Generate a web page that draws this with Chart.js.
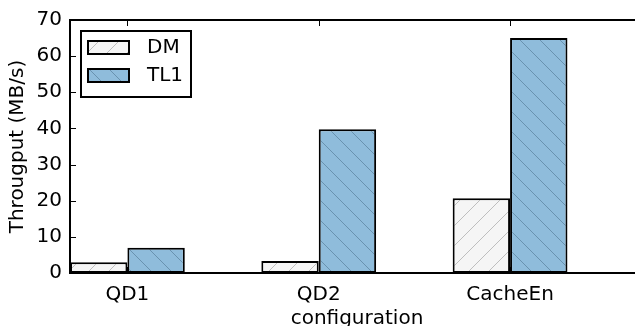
<!DOCTYPE html>
<html>
<head>
  <title>Throughput by configuration</title>
  <style>
    html, body {
      margin: 0;
      padding: 0;
      background: #fff;
      overflow: hidden;
    }
    #chart {
      display: block;
    }
  </style>
</head>
<body>
  <canvas id="chart" width="645" height="326"></canvas>
  <script src="https://cdn.jsdelivr.net/npm/chart.js@4"></script>
  <script>
    // data
    const categories = ['QD1', 'QD2', 'CacheEn'];
    const groupPos = [0.3, 1.3, 2.3];
    const dmValues = [3, 3.3, 20.7];
    const tl1Values = [7, 39.8, 65];
    const yTicks = [0, 10, 20, 30, 40, 50, 60, 70];

    function hatch(bg, line, dir) {
      const c = document.createElement('canvas');
      c.width = 20;
      c.height = 20;
      const g = c.getContext('2d');
      g.fillStyle = bg;
      g.fillRect(0, 0, 20, 20);
      g.strokeStyle = line;
      g.lineWidth = 0.8;
      g.beginPath();
      if (dir === '/') {
        g.moveTo(-2, 22); g.lineTo(22, -2);
        g.moveTo(-2, 2); g.lineTo(2, -2);
        g.moveTo(18, 22); g.lineTo(22, 18);
      } else {
        g.moveTo(-2, -2); g.lineTo(22, 22);
        g.moveTo(-2, 18); g.lineTo(2, 22);
        g.moveTo(18, -2); g.lineTo(22, 2);
      }
      g.stroke();
      return g.createPattern(c, 'repeat');
    }

    const ctx = document.getElementById('chart').getContext('2d');
    const dmFill = hatch('#f5f5f5', '#b0b0b0', '/');
    const tl1Fill = hatch('#8fbcdb', '#6088a3', '\\');

    const font = { family: 'DejaVu Sans', size: 20 };

    // frame + inward ticks like the old matplotlib style
    const framePlugin = {
      id: 'frame',
      afterDatasetsDraw(chart) {
        const a = chart.chartArea;
        const g = chart.ctx;
        const xs = chart.scales.x, ys = chart.scales.y;
        g.save();
        g.strokeStyle = '#000';
        g.lineWidth = 1;
        g.beginPath();
        xs.ticks.forEach(t => {
          const px = Math.round(xs.getPixelForValue(t.value)) + 0.5;
          g.moveTo(px, a.top); g.lineTo(px, a.top + 6);
          g.moveTo(px, a.bottom); g.lineTo(px, a.bottom - 6);
        });
        ys.ticks.forEach(t => {
          const py = Math.round(ys.getPixelForValue(t.value)) + 0.5;
          g.moveTo(a.left, py); g.lineTo(a.left + 6, py);
          g.moveTo(a.right, py); g.lineTo(a.right - 6, py);
        });
        g.stroke();
        g.lineWidth = 2;
        g.strokeRect(a.left, a.top, a.right - a.left, a.bottom - a.top);
        g.restore();
      }
    };

    // boxed legend in the upper left
    const legendPlugin = {
      id: 'boxLegend',
      afterDraw(chart) {
        const a = chart.chartArea;
        const g = chart.ctx;
        const x0 = a.left + 11, y0 = a.top + 11;
        g.save();
        g.fillStyle = '#fff';
        g.fillRect(x0, y0, 110, 66);
        g.strokeStyle = '#000';
        g.lineWidth = 2;
        g.strokeRect(x0, y0, 110, 66);
        g.font = '20px "DejaVu Sans"';
        g.textBaseline = 'middle';
        chart.data.datasets.forEach((ds, i) => {
          const sy = y0 + 10 + i * 28;
          g.fillStyle = ds.backgroundColor;
          g.fillRect(x0 + 7, sy, 41, 13);
          g.lineWidth = 2;
          g.strokeRect(x0 + 7, sy, 41, 13);
          g.fillStyle = '#000';
          g.fillText(ds.label, x0 + 66, sy + 7);
        });
        g.restore();
      }
    };

    new Chart(ctx, {
      type: 'bar',
      data: {
        datasets: [{
          label: 'DM',
          data: groupPos.map((x, i) => ({ x: x, y: dmValues[i] })),
          backgroundColor: dmFill,
          borderColor: '#000',
          borderWidth: 2,
          borderSkipped: false
        }, {
          label: 'TL1',
          data: groupPos.map((x, i) => ({ x: x, y: tl1Values[i] })),
          backgroundColor: tl1Fill,
          borderColor: '#000',
          borderWidth: 2,
          borderSkipped: false
        }]
      },
      options: {
        responsive: false,
        animation: false,
        categoryPercentage: 0.6,
        barPercentage: 1.0,
        layout: { padding: { top: 17, right: 1, left: 0, bottom: 0 } },
        plugins: {
          legend: { display: false },
          tooltip: { enabled: false }
        },
        scales: {
          x: {
            type: 'linear',
            offset: false,
            min: 0,
            max: 3,
            grid: { display: false, drawTicks: false },
            border: { display: false },
            afterBuildTicks: s => { s.ticks = groupPos.map(v => ({ value: v })); },
            afterFit: s => { s.height = 53; },
            ticks: {
              font: font,
              color: '#000',
              padding: 10,
              maxRotation: 0,
              autoSkip: false,
              callback: v => categories[groupPos.indexOf(v)]
            },
            title: {
              display: true,
              text: 'configuration',
              font: font,
              color: '#000',
              padding: { top: 0, bottom: -5 }
            }
          },
          y: {
            min: 0,
            max: 70,
            grid: { display: false, drawTicks: false },
            border: { display: false },
            afterBuildTicks: s => { s.ticks = yTicks.map(v => ({ value: v })); },
            afterFit: s => { s.width = 70; },
            ticks: {
              font: font,
              color: '#000',
              padding: 8
            },
            title: {
              display: true,
              text: 'Througput (MB/s)',
              font: font,
              color: '#000',
              padding: { top: 6, bottom: 0 }
            }
          }
        }
      },
      plugins: [framePlugin, legendPlugin]
    });
  </script>
</body>
</html>
